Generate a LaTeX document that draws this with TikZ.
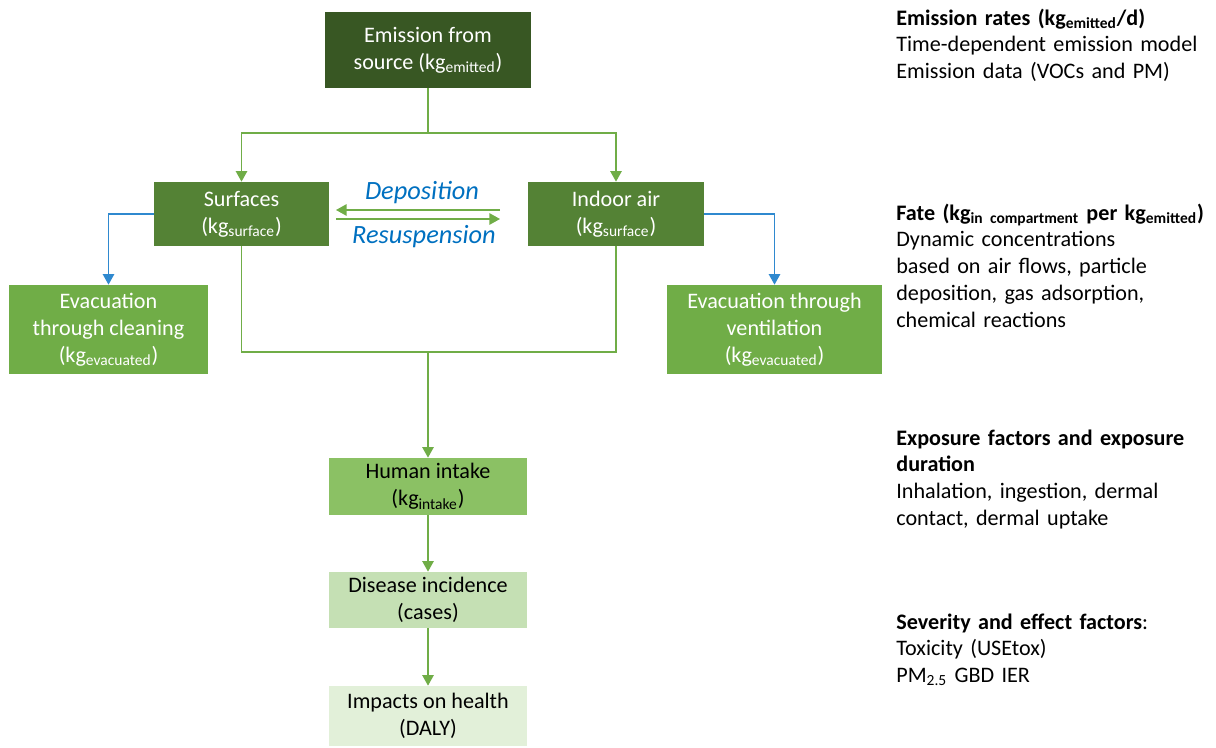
\documentclass[tikz,border=0pt]{standalone}
\usepackage{fontspec}
\setmainfont{Carlito}
\usetikzlibrary{arrows.meta}

\definecolor{emisgreen}{HTML}{385723}
\definecolor{compgreen}{HTML}{548235}
\definecolor{evacgreen}{HTML}{70AD47}
\definecolor{intakegreen}{HTML}{8BC164}
\definecolor{diseasegreen}{HTML}{C5E0B4}
\definecolor{impactgreen}{HTML}{E2F0D9}
\definecolor{linegreen}{HTML}{70AD47}
\definecolor{flowblue}{HTML}{2F89CF}
\definecolor{labelblue}{HTML}{0070C0}

\tikzset{
  box/.style={inner sep=0pt, align=center, font=\fontsize{12.6}{15.3}\selectfont},
  flow/.style={draw=linegreen, line width=0.75pt, -{Triangle[length=6pt,width=6.5pt]}},
  link/.style={draw=linegreen, line width=0.75pt},
  evac/.style={draw=flowblue, line width=0.75pt, -{Triangle[length=6pt,width=6.5pt]}},
  note/.style={anchor=base west, inner sep=0pt, text width=6.4cm, align=left,
    font=\fontsize{12.6}{15.3}\selectfont},
  xlabel/.style={text=labelblue, font=\fontsize{15}{17}\selectfont\itshape}
}

\begin{document}
\begin{tikzpicture}[x=0.02cm, y=-0.02cm]
    \useasboundingbox (0,0) rectangle (1216,747);

    % chain of compartments
    \node[box, fill=emisgreen, text=white, minimum width=4.12cm, minimum height=1.52cm] (emis) at (428,50)
        {Emission from\\source (kg\textsubscript{emitted})};
    \node[box, fill=compgreen, text=white, minimum width=3.5cm, minimum height=1.28cm] (surf) at (241.5,214)
        {Surfaces\\(kg\textsubscript{surface})};
    \node[box, fill=compgreen, text=white, minimum width=3.52cm, minimum height=1.28cm] (air) at (616,214)
        {Indoor air\\(kg\textsubscript{surface})};
    \node[box, fill=evacgreen, text=white, minimum width=3.98cm, minimum height=1.78cm] (clean) at (108.5,329.5)
        {Evacuation\\through cleaning\\(kg\textsubscript{evacuated})};
    \node[box, fill=evacgreen, text=white, minimum width=4.3cm, minimum height=1.78cm] (vent) at (774.5,329.5)
        {Evacuation through\\ventilation\\(kg\textsubscript{evacuated})};
    \node[box, fill=intakegreen, minimum width=3.96cm, minimum height=1.14cm] (intake) at (428,486.5)
        {Human intake\\(kg\textsubscript{intake})};
    \node[box, fill=diseasegreen, minimum width=3.96cm, minimum height=1.12cm] (disease) at (428,600)
        {Disease incidence\\(cases)};
    \node[box, fill=impactgreen, minimum width=3.96cm, minimum height=1.2cm] (impact) at (428,716)
        {Impacts on health\\(DALY)};

    % connectors
    \coordinate (split) at (428,133);
    \coordinate (join) at (428,352);
    \draw[link] (emis.south) -- (split);
    \draw[flow] (split) -| (surf.north);
    \draw[flow] (split) -| (air.north);
    \draw[link] (surf.south) |- (join) -| (air.south);
    \draw[flow] (join) -- (intake.north);
    \draw[flow] (intake.south) -- (disease.north);
    \draw[flow] (disease.south) -- (impact.north);
    \draw[evac] (surf.west) -| (clean.north);
    \draw[evac] (air.east) -| (vent.north);

    % exchange between surfaces and air
    \coordinate (depstart) at (500,210);
    \coordinate (depend) at (336,210);
    \coordinate (resstart) at (336,219);
    \coordinate (resend) at (500,219);
    \draw[flow] (depstart) -- (depend);
    \draw[flow] (resstart) -- (resend);
    \node[xlabel] (dep) at (422,193) {Deposition};
    \node[xlabel] (res) at (424,237) {Resuspension};

    % notes on the right
    \node[note] (n1) at (896,25)
        {\textbf{Emission rates (kg\textsubscript{emitted}/d)}\\Time-dependent emission model\\Emission data (VOCs and PM)};
    \node[note] (n2) at (896,220)
        {\textbf{Fate (kg\textsubscript{in compartment} per kg\textsubscript{emitted})}\\Dynamic concentrations\\based on air flows, particle\\deposition, gas adsorption,\\chemical reactions};
    \node[note] (n3) at (896,445)
        {\textbf{Exposure factors and exposure}\\\textbf{duration}\\Inhalation, ingestion, dermal\\contact, dermal uptake};
    \node[note] (n4) at (896,629)
        {\textbf{Severity and effect factors}:\\Toxicity (USEtox)\\PM\textsubscript{2.5} GBD IER};
\end{tikzpicture}
\end{document}
